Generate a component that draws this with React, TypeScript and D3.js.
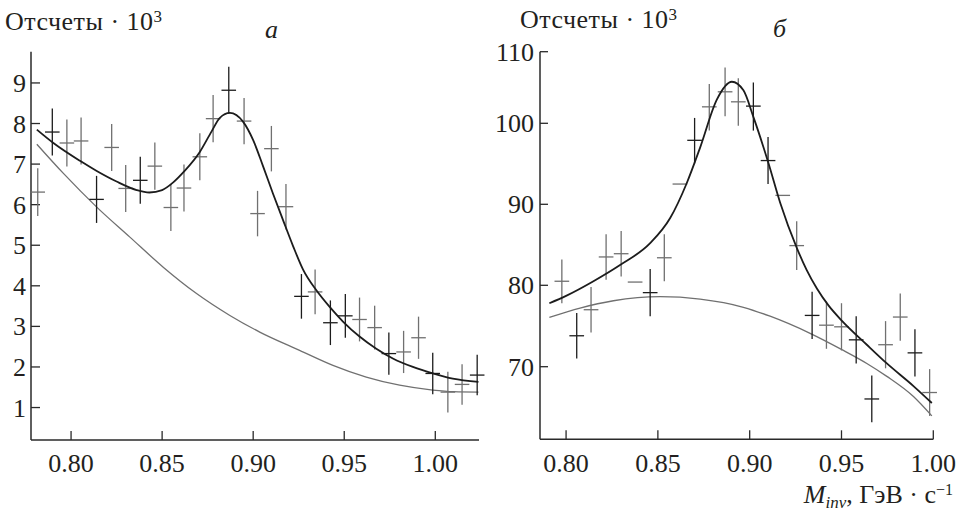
import React from 'react';
import * as d3 from 'd3';

// ---------- Panel а ----------
const massA = [0.7817, 0.7897, 0.7977, 0.8055, 0.8140, 0.8223, 0.8300, 0.8380, 0.8460, 0.8548, 0.8620, 0.8707, 0.8780, 0.8866, 0.8950, 0.9024, 0.9100, 0.9180, 0.9265, 0.9340, 0.9424, 0.9506, 0.9584, 0.9667, 0.9745, 0.9826, 0.9908, 0.9986, 1.0069, 1.0147, 1.0230];
const countsA = [6.31, 7.79, 7.52, 7.57, 6.13, 7.41, 6.40, 6.60, 6.95, 5.93, 6.41, 7.18, 8.12, 8.82, 8.06, 5.78, 7.38, 5.95, 3.74, 3.85, 3.09, 3.26, 3.17, 2.97, 2.33, 2.37, 2.72, 1.84, 1.38, 1.57, 1.80];
const errorsA = [0.59, 0.58, 0.58, 0.58, 0.58, 0.58, 0.58, 0.58, 0.58, 0.58, 0.58, 0.58, 0.58, 0.58, 0.57, 0.56, 0.56, 0.56, 0.55, 0.55, 0.55, 0.54, 0.54, 0.54, 0.52, 0.52, 0.52, 0.51, 0.50, 0.50, 0.50];
const toneA = [0, 1, 0, 0, 1, 0, 0, 1, 0, 0, 0, 0, 0, 1, 0, 0, 0, 0, 1, 0, 1, 1, 0, 0, 1, 0, 0, 1, 0, 0, 1];
const fitMassA = [0.7812, 0.7903, 0.8049, 0.8141, 0.8250, 0.8360, 0.8430, 0.8500, 0.8561, 0.8621, 0.8707, 0.8771, 0.8817, 0.8872, 0.8945, 0.9000, 0.9054, 0.9109, 0.9164, 0.9219, 0.9274, 0.9347, 0.9420, 0.9493, 0.9584, 0.9676, 0.9767, 0.9877, 0.9986, 1.0096, 1.0237];
const fitA = [7.85, 7.52, 7.08, 6.83, 6.57, 6.36, 6.30, 6.36, 6.55, 6.82, 7.30, 7.80, 8.14, 8.26, 8.04, 7.59, 6.95, 6.27, 5.62, 4.98, 4.40, 3.89, 3.48, 3.12, 2.75, 2.45, 2.21, 2.00, 1.84, 1.71, 1.63];
const bgMassA = [0.7812, 0.7958, 0.8141, 0.8323, 0.8506, 0.8689, 0.8872, 0.9036, 0.9255, 0.9438, 0.9621, 0.9804, 0.9986, 1.0100, 1.0237];
const bgA = [7.49, 6.77, 5.94, 5.20, 4.46, 3.81, 3.27, 2.86, 2.41, 2.04, 1.75, 1.55, 1.43, 1.39, 1.38];
const yTicksA = [1, 2, 3, 4, 5, 6, 7, 8, 9];
const xTicksA = [0.80, 0.85, 0.90, 0.95, 1.00];

// ---------- Panel б ----------
const massB = [0.7977, 0.8058, 0.8136, 0.8218, 0.8300, 0.8376, 0.8458, 0.8535, 0.8620, 0.8700, 0.8780, 0.8866, 0.8938, 0.9020, 0.9100, 0.9180, 0.9256, 0.9340, 0.9418, 0.9500, 0.9580, 0.9665, 0.9740, 0.9820, 0.9900, 0.9980];
const countsB = [80.5, 73.8, 77.0, 83.5, 83.9, 80.4, 79.1, 83.4, 92.5, 97.9, 102.3, 104.4, 103.0, 102.4, 95.4, 91.1, 84.9, 76.3, 75.1, 74.9, 73.3, 66.0, 72.7, 76.1, 71.7, 66.8];
const errorsB = [2.7, 2.8, 2.8, 2.8, 2.8, 0, 2.9, 2.9, 0, 2.85, 3.2, 3.4, 3.3, 3.3, 2.9, 0, 3.0, 2.9, 2.9, 2.9, 2.9, 2.9, 2.9, 2.9, 2.9, 2.9];
const toneB = [0, 1, 0, 0, 0, 0, 1, 0, 0, 1, 0, 0, 0, 1, 1, 0, 0, 1, 0, 0, 1, 1, 0, 0, 1, 0];
const fitMassB = [0.7909, 0.8000, 0.8149, 0.8294, 0.8458, 0.8567, 0.8657, 0.8730, 0.8821, 0.8903, 0.8966, 0.9020, 0.9102, 0.9166, 0.9257, 0.9310, 0.9366, 0.9430, 0.9500, 0.9638, 0.9747, 0.9892, 0.9992];
const fitB = [77.8, 78.7, 80.5, 82.5, 85.2, 88.3, 92.6, 97.0, 103.3, 105.8, 104.6, 100.9, 95.1, 90.2, 84.6, 81.9, 79.6, 77.5, 75.7, 72.7, 70.4, 67.6, 65.5];
const bgMassB = [0.7909, 0.8076, 0.8258, 0.8512, 0.8730, 0.8966, 0.9111, 0.9329, 0.9502, 0.9638, 0.9747, 0.9892, 0.9992];
const bgB = [76.05, 77.2, 78.1, 78.6, 78.3, 77.3, 76.2, 74.1, 72.1, 70.4, 68.8, 66.3, 63.9];
const yTicksB = [70, 80, 90, 100, 110];
const xTicksB = [0.80, 0.85, 0.90, 0.95, 1.00];

const HALF_BIN = 0.004;
const FONT = 'Liberation Serif';
const TEXT = '#231f20';
const AXIS = '#2a2a2a';
const DARK = '#1c1c1c';
const GRAY = '#707070';
const FS = 26;

type Sc = (v: number) => number;

function Crosses({ xs, ys, errs, tones, x, y }: { xs: number[]; ys: number[]; errs: number[]; tones: number[]; x: Sc; y: Sc }) {
  return (
    <g>
      {xs.map((m, i) => {
        const c = tones[i] ? DARK : GRAY;
        return (
          <g key={i} stroke={c} strokeWidth={1.3} fill="none">
            <line x1={x(m - HALF_BIN)} x2={x(m + HALF_BIN)} y1={y(ys[i])} y2={y(ys[i])} />
            {errs[i] > 0 && <line x1={x(m)} x2={x(m)} y1={y(ys[i] - errs[i])} y2={y(ys[i] + errs[i])} />}
          </g>
        );
      })}
    </g>
  );
}

function Curve({ xs, ys, x, y, stroke, width }: { xs: number[]; ys: number[]; x: Sc; y: Sc; stroke: string; width: number }) {
  const pts = xs.map((v, i) => [v, ys[i]] as [number, number]);
  const gen = d3.line<[number, number]>().x(d => x(d[0])).y(d => y(d[1])).curve(d3.curveMonotoneX);
  return <path d={gen(pts) || ''} fill="none" stroke={stroke} strokeWidth={width} />;
}

function Axes({ x, y, xTicks, yTicks, x0, x1, yTop, yBot, labelX, tickLen }: { x: Sc; y: Sc; xTicks: number[]; yTicks: number[]; x0: number; x1: number; yTop: number; yBot: number; labelX: number; tickLen: number }) {
  return (
    <g>
      <line x1={x0} x2={x0} y1={yTop} y2={yBot} stroke={AXIS} strokeWidth={1.5} />
      <line x1={x0} x2={x1} y1={yBot} y2={yBot} stroke={AXIS} strokeWidth={1.5} />
      {yTicks.map(t => (
        <g key={'y' + t}>
          <line x1={x0} x2={x0 + tickLen} y1={y(t)} y2={y(t)} stroke={AXIS} strokeWidth={1.3} />
          <text x={labelX} y={y(t) + 9} textAnchor="end" fontSize={FS} fontFamily={FONT} fill={TEXT}>{t}</text>
        </g>
      ))}
      {xTicks.map(t => (
        <g key={'x' + t}>
          <line x1={x(t)} x2={x(t)} y1={yBot} y2={yBot - 9} stroke={AXIS} strokeWidth={1.3} />
          <text x={x(t)} y={472} textAnchor="middle" fontSize={FS} fontFamily={FONT} fill={TEXT}>{t.toFixed(2)}</text>
        </g>
      ))}
    </g>
  );
}

function YTitle({ x, y }: { x: number; y: number }) {
  return (
    <text x={x} y={y} fontSize={FS} letterSpacing={0.5} fontFamily={FONT} fill={TEXT}>
      Отсчеты · 10<tspan fontSize={17} dy={-8}>3</tspan>
    </text>
  );
}

export default function App() {
  const xA = d3.scaleLinear().domain([0.778, 1.024]).range([31, 479]);
  const yA = d3.scaleLinear().domain([0.2, 9.77]).range([440, 51.7]);
  const xB = d3.scaleLinear().domain([0.7858, 1.0]).range([540, 933.3]);
  const yB = d3.scaleLinear().domain([61, 70, 80, 90, 100, 110]).range([439.3, 366.7, 285.3, 204.3, 123.3, 51.7]);

  return (
    <svg width={959} height={514} viewBox="0 0 959 514" fontFamily={FONT} style={{ position: 'absolute', left: 0, top: 0, background: '#fff', fontFamily: FONT }}>
      <rect x={0} y={0} width={959} height={514} fill="#fff" />
      {/* Panel а */}
      <YTitle x={5} y={30} />
      <text x={265} y={38} fontSize={FS} fontStyle="italic" fontFamily={FONT} fill={TEXT}>а</text>
      <Axes x={xA} y={yA} xTicks={xTicksA} yTicks={yTicksA} x0={31} x1={479} yTop={yA(9.77)} yBot={yA(0.2)} labelX={26} tickLen={9} />
      <Curve xs={bgMassA} ys={bgA} x={xA} y={yA} stroke={GRAY} width={1.3} />
      <Crosses xs={massA} ys={countsA} errs={errorsA} tones={toneA} x={xA} y={yA} />
      <Curve xs={fitMassA} ys={fitA} x={xA} y={yA} stroke={DARK} width={1.8} />

      {/* Panel б */}
      <YTitle x={520} y={28} />
      <text x={773} y={37} fontSize={FS} fontStyle="italic" fontFamily={FONT} fill={TEXT}>б</text>
      <Axes x={xB} y={yB} xTicks={xTicksB} yTicks={yTicksB} x0={540} x1={933.3} yTop={yB(110)} yBot={yB(61)} labelX={534} tickLen={8} />
      <Curve xs={bgMassB} ys={bgB} x={xB} y={yB} stroke={GRAY} width={1.3} />
      <Crosses xs={massB} ys={countsB} errs={errorsB} tones={toneB} x={xB} y={yB} />
      <Curve xs={fitMassB} ys={fitB} x={xB} y={yB} stroke={DARK} width={1.8} />

      <text x={953} y={503} textAnchor="end" fontSize={FS} fontFamily={FONT} fill={TEXT}>
        <tspan fontStyle="italic">M</tspan>
        <tspan fontStyle="italic" fontSize={17} dy={5}>inv</tspan>
        <tspan dy={-5}>, ГэВ · с</tspan>
        <tspan fontSize={16} dy={-8}>−1</tspan>
      </text>
    </svg>
  );
}
